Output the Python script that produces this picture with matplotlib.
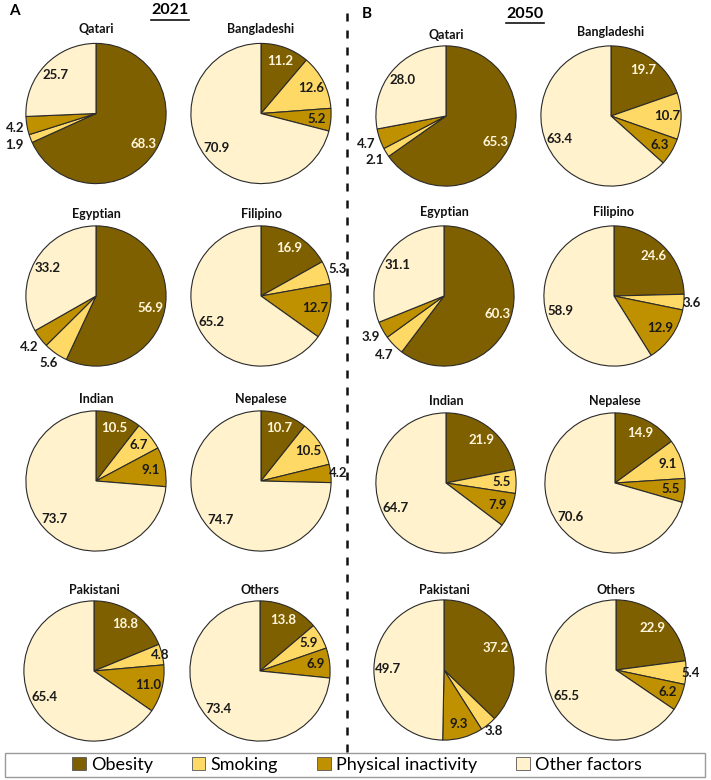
import matplotlib
matplotlib.use("Agg")
import matplotlib.pyplot as plt
from matplotlib.patches import Patch, Rectangle
from matplotlib.lines import Line2D
import numpy as np

plt.rcParams['font.family'] = ['Lato', 'DejaVu Sans']

# ---------------- data ----------------
groups = ["Qatari", "Bangladeshi", "Egyptian", "Filipino",
          "Indian", "Nepalese", "Pakistani", "Others"]
factors = ["Obesity", "Smoking", "Physical inactivity", "Other factors"]

obesity_2021 = [68.3, 11.2, 56.9, 16.9, 10.5, 10.7, 18.8, 13.8]
smoking_2021 = [1.9, 12.6, 5.6, 5.3, 6.7, 10.5, 4.8, 5.9]
inactivity_2021 = [4.2, 5.2, 4.2, 12.7, 9.1, 4.2, 11.0, 6.9]
other_2021 = [25.7, 70.9, 33.2, 65.2, 73.7, 74.7, 65.4, 73.4]

obesity_2050 = [65.3, 19.7, 60.3, 24.6, 21.9, 14.9, 37.2, 22.9]
smoking_2050 = [2.1, 10.7, 4.7, 3.6, 5.5, 9.1, 3.8, 5.4]
inactivity_2050 = [4.7, 6.3, 3.9, 12.9, 7.9, 5.5, 9.3, 6.2]
other_2050 = [28.0, 63.4, 31.1, 58.9, 64.7, 70.6, 49.7, 65.5]

# ---------------- style ----------------
colors = ["#7F6000", "#FFD966", "#BF9000", "#FFF2CC"]
text_colors = ["#FFF6DC", "#1a1a1a", "#1a1a1a", "#1a1a1a"]

W, H = 711, 780
R = 71.5
centers_2021 = [(96, 113.5), (261, 113.5), (96, 296), (261, 296),
                (96, 481), (261, 481), (94, 671), (260, 671)]
centers_2050 = [(446, 116), (611, 116), (444, 296), (614, 296),
                (446, 483), (615, 483), (444, 670), (616, 670)]
title_y_2021 = [29, 29, 214, 214, 399, 399, 590, 590]
title_y_2050 = [35, 32, 212, 212, 401, 401, 590, 590]

# label radius overrides (year, group index, slice index) -> radius
label_r = {
    (2021, 0, 1): 1.24, (2021, 0, 2): 1.17,
    (2021, 2, 1): 1.17, (2021, 2, 2): 1.2,
    (2021, 3, 1): 1.16,
    (2021, 5, 2): 1.1,
    (2021, 6, 1): 0.97,
    (2050, 0, 1): 1.2, (2050, 0, 2): 1.2,
    (2050, 2, 1): 1.2, (2050, 2, 2): 1.2,
    (2050, 3, 1): 1.12,
    (2050, 6, 1): 1.13,
    (2050, 7, 1): 1.06,
}

fig = plt.figure(figsize=(W / 100, H / 100), dpi=100)


def draw_pie(year, gi, vals, center, title_y):
    cx, cy = center
    ax = fig.add_axes([(cx - R) / W, 1 - (cy + R) / H, 2 * R / W, 2 * R / H])
    wedges, _ = ax.pie(vals, colors=colors, startangle=90, counterclock=False,
                       radius=1, wedgeprops=dict(edgecolor="#2a2a2a", linewidth=0.8))
    ax.set_xlim(-1.02, 1.02)
    ax.set_ylim(-1.02, 1.02)
    ax.axis("off")
    for si, (w, v) in enumerate(zip(wedges, vals)):
        mid = np.deg2rad((w.theta1 + w.theta2) / 2)
        r = label_r.get((year, gi, si), 0.8)
        tc = text_colors[si] if r < 1.0 else "#1a1a1a"
        ax.text(r * np.cos(mid), r * np.sin(mid), f"{v:.1f}", ha="center", va="center",
                fontsize=9.5, fontweight="bold", color=tc, clip_on=False)
    fig.text(cx / W, 1 - title_y / H, groups[gi], ha="center", va="center",
             fontsize=9, fontweight="bold", color="#111111")


for gi in range(len(groups)):
    vals = [obesity_2021[gi], smoking_2021[gi], inactivity_2021[gi], other_2021[gi]]
    draw_pie(2021, gi, vals, centers_2021[gi], title_y_2021[gi])
    vals = [obesity_2050[gi], smoking_2050[gi], inactivity_2050[gi], other_2050[gi]]
    draw_pie(2050, gi, vals, centers_2050[gi], title_y_2050[gi])

# panel headers
fig.text(9 / W, 1 - 11 / H, "A", ha="left", va="center", fontsize=11, fontweight="bold")
fig.text(362 / W, 1 - 14 / H, "B", ha="left", va="center", fontsize=11, fontweight="bold")
fig.text(170 / W, 1 - 10.5 / H, "2021", ha="center", va="center", fontsize=11.5, fontweight="bold")
fig.text(525 / W, 1 - 14 / H, "2050", ha="center", va="center", fontsize=11.5, fontweight="bold")
fig.add_artist(Line2D([151 / W, 189 / W], [1 - 19.5 / H, 1 - 19.5 / H], color="#111", lw=1.2))
fig.add_artist(Line2D([506 / W, 544 / W], [1 - 23 / H, 1 - 23 / H], color="#111", lw=1.2))

# divider
fig.add_artist(Line2D([347 / W, 347 / W], [1 - 13 / H, 1 - 752 / H], color="#111",
                      lw=1.8, linestyle=(0, (3.2, 3.6))))

# legend
fig.add_artist(Rectangle((5 / W, 1 - 777 / H), 700 / W, 24 / H, transform=fig.transFigure,
                         facecolor="white", edgecolor="#9a9a9a", lw=1.0))
handles = [Patch(facecolor=c, edgecolor="#555555", lw=0.6) for c in colors]
fig.legend(handles, factors, ncol=4, loc="center", bbox_to_anchor=(357 / W, 1 - 765 / H),
           frameon=False, fontsize=13, handlelength=0.75, handleheight=0.75,
           handletextpad=0.3, columnspacing=2.15, borderpad=0.1)

fig.savefig("out.png", dpi=100)
